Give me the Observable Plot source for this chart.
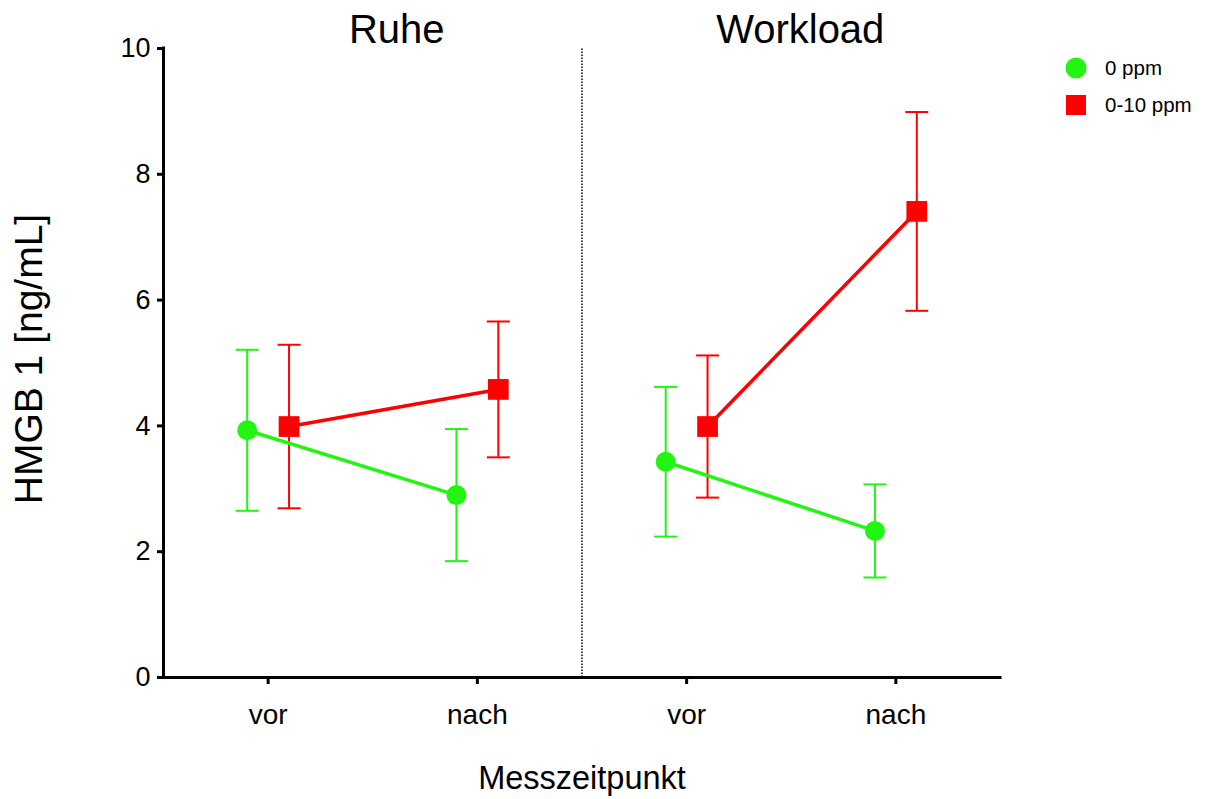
<!DOCTYPE html>
<html>
<head>
<meta charset="utf-8">
<script src="https://cdn.jsdelivr.net/npm/d3@7"></script>
<script src="https://cdn.jsdelivr.net/npm/@observablehq/plot@0.6"></script>
<style>
  html, body { margin: 0; padding: 0; background: #fff; }
  #wrap { position: relative; width: 1206px; height: 799px; font-family: "Liberation Sans", Arial, Helvetica, sans-serif; }
  #legend { position: absolute; left: 1064px; top: 56px; font-size: 20.5px; color: #000; }
  #legend .row { display: flex; align-items: center; height: 24px; margin-bottom: 12.5px; }
  #legend svg { width: 24px; height: 24px; margin-right: 17px; flex: none; }
</style>
</head>
<body>
<div id="wrap"><div id="legend"></div></div>
<script>
// HMGB 1 concentration before/after, at rest and under workload, two exposure groups
const phases = ["Ruhe", "Workload"];
const times = ["vor", "nach"];
const groups = ["0 ppm", "0-10 ppm"];
const colors = ["#22f511", "#ff0000"];
const symbols = ["circle", "square"];

// group means and error (SEM), order: Ruhe vor, Ruhe nach, Workload vor, Workload nach
const mean0 = [3.93, 2.90, 3.43, 2.33];
const err0  = [1.28, 1.05, 1.19, 0.74];
const mean1 = [3.99, 4.58, 3.99, 7.41];
const err1  = [1.30, 1.08, 1.13, 1.58];

const yTicks = [0, 2, 4, 6, 8, 10];
const yLabel = "HMGB 1 [ng/mL]";
const xLabel = "Messzeitpunkt";

const means = [mean0, mean1];
const errs = [err0, err1];
const dodge = [-0.1, 0.1];   // horizontal offset of each group within a time slot
const capHalf = 0.055;       // half width of error-bar caps, in x units
const titleDx = [24, 9];     // nudges of the panel titles, in pixels

const rows = [];
groups.forEach((group, g) => {
  phases.forEach((phase, p) => {
    times.forEach((time, t) => {
      const slot = p * times.length + t;
      rows.push({
        group, phase, time, g,
        x: slot + 0.5 + dodge[g],
        mean: means[g][slot],
        lo: means[g][slot] - errs[g][slot],
        hi: means[g][slot] + errs[g][slot]
      });
    });
  });
});

const slotTicks = d3.range(phases.length * times.length).map(i => i + 0.5);

// draw the 0-10 ppm series first so the 0 ppm series sits on top
const seriesMarks = [1, 0].flatMap(g => {
  const data = rows.filter(d => d.g === g);
  return [
    Plot.ruleX(data, {x: "x", y1: "lo", y2: "hi", stroke: "group", strokeWidth: 2}),
    Plot.link(data, {x1: d => d.x - capHalf, x2: d => d.x + capHalf, y1: "hi", y2: "hi", stroke: "group", strokeWidth: 2}),
    Plot.link(data, {x1: d => d.x - capHalf, x2: d => d.x + capHalf, y1: "lo", y2: "lo", stroke: "group", strokeWidth: 2}),
    Plot.line(data, {x: "x", y: "mean", z: "phase", stroke: "group", strokeWidth: 3.5}),
    Plot.dot(data, {x: "x", y: "mean", symbol: "group", fill: "group", r: g === 0 ? 10 : 11.7})
  ];
});

// panel titles centred over each half
const titleMarks = phases.map((phase, p) =>
  Plot.text([phase], {x: p * 2 + 1, frameAnchor: "top", dx: titleDx[p], dy: -6, lineAnchor: "bottom", fontSize: 40, fill: "black"})
);

const chart = Plot.plot({
  width: 1206,
  height: 799,
  marginLeft: 163,
  marginRight: 206,
  marginTop: 48,
  marginBottom: 122,
  style: {fontFamily: '"Liberation Sans", Arial, Helvetica, sans-serif', background: "white", color: "black"},
  x: {domain: [0, 4], axis: null},
  y: {domain: [0, 10], axis: null},
  color: {domain: groups, range: colors},
  symbol: {domain: groups, range: symbols},
  marks: [
    Plot.axisX({ticks: slotTicks, tickFormat: d => times[Math.floor(d) % times.length], tickSize: 7, tickPadding: 20, fontSize: 28, strokeWidth: 3, label: null}),
    Plot.axisY({ticks: yTicks, tickSize: 6, tickPadding: 7, fontSize: 27, strokeWidth: 3, label: null}),
    Plot.ruleX([2], {y1: 0, y2: 10, stroke: "black", strokeWidth: 1.5, strokeDasharray: "1.5,1.5"}),
    Plot.ruleY([0], {x1: 0, x2: 4, stroke: "black", strokeWidth: 3, strokeLinecap: "square"}),
    Plot.ruleX([0], {y1: 0, y2: 10, stroke: "black", strokeWidth: 3, strokeLinecap: "square"}),
    ...seriesMarks,
    ...titleMarks,
    Plot.text([yLabel], {frameAnchor: "left", textAnchor: "middle", rotate: -90, dx: -122, dy: -4, lineAnchor: "bottom", fontSize: 39, fill: "black"}),
    Plot.text([xLabel], {x: 2, frameAnchor: "bottom", dy: 111, lineAnchor: "bottom", fontSize: 32.5, fill: "black"})
  ]
});

const wrap = document.getElementById("wrap");
wrap.insertBefore(chart, wrap.firstChild);

// legend: one row per group with its symbol
const legend = d3.select("#legend");
groups.forEach((group, g) => {
  const row = legend.append("div").attr("class", "row");
  const sw = row.append("svg").attr("viewBox", "-12 -12 24 24");
  if (symbols[g] === "circle") sw.append("circle").attr("r", 10.5).attr("fill", colors[g]);
  else sw.append("rect").attr("x", -10).attr("y", -10).attr("width", 20).attr("height", 20).attr("fill", colors[g]);
  row.append("span").text(group);
});
</script>
</body>
</html>
